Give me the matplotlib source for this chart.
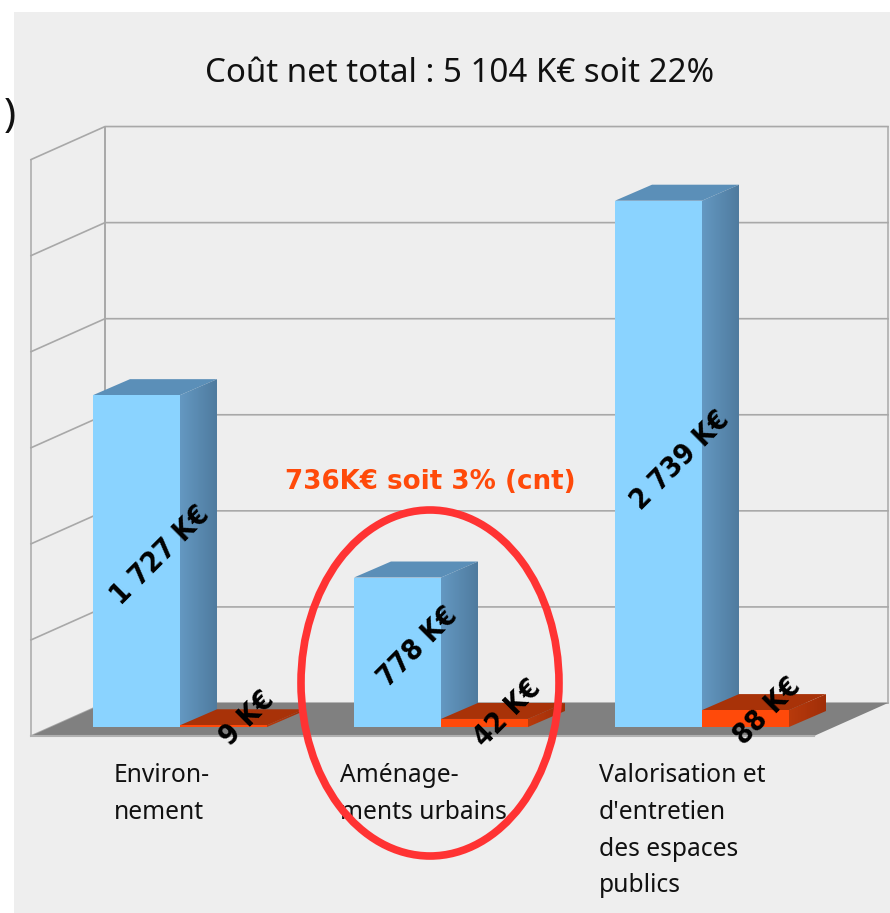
"""
Cout net total par poste - faux histogramme 3D
"""
import matplotlib
matplotlib.use('Agg')
import matplotlib.pyplot as plt
import numpy as np
from matplotlib.patches import Polygon, Ellipse, Rectangle
from matplotlib.colors import LinearSegmentedColormap

# ============================================================================
# Data
# ============================================================================
categories = ["Environ-\nnement", "Aménage-\nments urbains", "Valorisation et\nd'entretien\ndes espaces\npublics"]
values_blue = [1727, 778, 2739]
values_red = [9, 42, 88]
labels_blue = ["1 727 K€", "778 K€", "2 739 K€"]
labels_red = ["9 K€", "42 K€", "88 K€"]
grid_values = [0, 500, 1000, 1500, 2000, 2500, 3000]
title = "Coût net total : 5 104 K€ soit 22%"
note = "736K€ soit 3% (cnt)"

# ============================================================================
# Layout (pixels of the picture)
# ============================================================================
px_per_unit = 0.19215
floor_front_y = 736
bar_base_y = 727
wall_left, wall_right = 31, 814
depth_x, depth_y = 74, -33
bar_depth_x, bar_depth_y = 37, -16
bar_w = 87
bar_x0 = [93, 354, 615]
font = 'Noto Sans'


def val_y(v, base=floor_front_y):
    return base - v * px_per_unit


def side_gradient(ax, pts, c0, c1, z):
    # horizontal gradient clipped to the side polygon
    pts = np.array(pts)
    cmap = LinearSegmentedColormap.from_list('s', [c0, c1])
    x0, x1 = pts[:, 0].min(), pts[:, 0].max()
    y0, y1 = pts[:, 1].min(), pts[:, 1].max()
    im = ax.imshow(np.linspace(0, 1, 64).reshape(1, -1), cmap=cmap, aspect='auto',
                   extent=[x0, x1, y1, y0], zorder=z)
    im.set_clip_path(Polygon(pts, transform=ax.transData))


def draw_bar(ax, x0, v, front, top, side0, side1, z):
    y_top = val_y(v, bar_base_y)
    x1 = x0 + bar_w
    dx, dy = bar_depth_x, bar_depth_y
    ax.add_patch(Polygon([(x0, y_top), (x1, y_top), (x1 + dx, y_top + dy), (x0 + dx, y_top + dy)],
                         facecolor=top, edgecolor='none', zorder=z))
    side_gradient(ax, [(x1, y_top), (x1 + dx, y_top + dy), (x1 + dx, bar_base_y + dy), (x1, bar_base_y)],
                  side0, side1, z)
    ax.add_patch(Rectangle((x0, y_top), bar_w, bar_base_y - y_top, facecolor=front, edgecolor='none', zorder=z + 0.1))


fig = plt.figure(figsize=(8.9, 9.13), dpi=100)
ax = fig.add_axes([0, 0, 1, 1])
ax.set_xlim(0, 890)
ax.set_ylim(913, 0)
ax.axis('off')

ax.add_patch(Rectangle((14, 12), 876, 901, facecolor='#EEEEEE', edgecolor='none', zorder=0))

# ============================================================================
# Walls, floor, grid
# ============================================================================
grid_c = '#A8A8A8'
for v in grid_values:
    y = val_y(v)
    ax.plot([wall_left, wall_left + depth_x, wall_right + depth_x],
            [y, y + depth_y, y + depth_y], color=grid_c, lw=1.2, zorder=1)
ax.plot([wall_left, wall_left], [val_y(0), val_y(3000)], color=grid_c, lw=1.1, zorder=1)
ax.plot([wall_left + depth_x] * 2, [val_y(0) + depth_y, val_y(3000) + depth_y], color=grid_c, lw=1.4, zorder=1)
ax.plot([wall_right + depth_x] * 2, [val_y(0) + depth_y, val_y(3000) + depth_y], color=grid_c, lw=1.1, zorder=1)

ax.add_patch(Polygon([(wall_left, floor_front_y), (wall_right, floor_front_y),
                      (wall_right + depth_x, floor_front_y + depth_y), (wall_left + depth_x, floor_front_y + depth_y)],
                     facecolor='#808080', edgecolor='none', zorder=2))
ax.plot([wall_left, wall_right], [floor_front_y, floor_front_y], color='#B0B0B0', lw=1.5, zorder=2.1)

# ============================================================================
# Bars
# ============================================================================
for i, x0 in enumerate(bar_x0):
    draw_bar(ax, x0, values_blue[i], '#8AD3FF', '#5B8FB8', '#6498C2', '#4F7B9E', 3 + i)
    draw_bar(ax, x0 + bar_w, values_red[i], '#FF4A0A', '#A83208', '#B83A0C', '#A02E08', 3.5 + i)

# ============================================================================
# Text
# ============================================================================
blue_pos = [(160, 555), (418, 647), (680, 460)]
red_pos = [(247, 718), (508, 713), (767, 711)]
for lab, (x, y) in zip(labels_blue + labels_red, blue_pos + red_pos):
    ax.text(x, y, lab, rotation=45, ha='center', va='center', fontsize=20.5,
            fontweight='bold', family='DejaVu Sans', stretch='condensed', color='black', zorder=10)

ax.text(460, 74, title, ha='center', va='center', fontsize=23.8, family=font, color='#111111')
ax.text(430, 482, note, ha='center', va='center', fontsize=18.8, fontweight='bold', family='DejaVu Sans', color='#FF4A0A')
ax.text(4, 117, ')', ha='left', va='center', fontsize=29, family=font, color='#111111')

cat_x = [114, 340, 599]
for lab, x in zip(categories, cat_x):
    ax.text(x, 763, lab, ha='left', va='top', fontsize=17.7, family=font, color='#111111', linespacing=1.62)

ax.add_patch(Ellipse((430, 683), 258, 346, facecolor='none', edgecolor='#FF3333', lw=5.5, zorder=11))

plt.savefig('out.png', dpi=100)
